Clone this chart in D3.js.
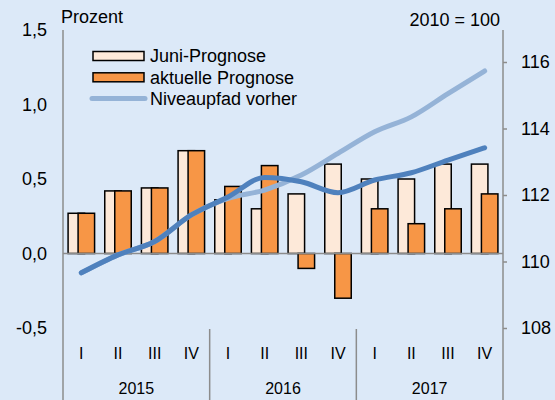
<!DOCTYPE html>
<html>
<head>
<meta charset="utf-8">
<script src="https://cdn.jsdelivr.net/npm/d3@7"></script>
<style>
  body { margin: 0; background: #dce9f8; }
  svg { display: block; font-family: "Liberation Sans", Arial, sans-serif; }
</style>
</head>
<body>
<div id="chart"></div>
<script>
var quarters = ['I', 'II', 'III', 'IV', 'I', 'II', 'III', 'IV', 'I', 'II', 'III', 'IV'];
var years = ['2015', '2016', '2017'];
var juniPrognose = [0.27, 0.42, 0.44, 0.69, 0.36, 0.30, 0.40, 0.60, 0.50, 0.50, 0.60, 0.60];
var aktuellePrognose = [0.27, 0.42, 0.44, 0.69, 0.45, 0.59, -0.10, -0.30, 0.30, 0.20, 0.30, 0.40];
var niveauVorher = [109.66, 110.2, 110.6, 111.4, 111.9, 112.15, 112.6, 113.25, 113.9, 114.35, 115.05, 115.73];
var niveauAktuell = [109.66, 110.2, 110.6, 111.4, 111.94, 112.53, 112.4, 112.07, 112.45, 112.67, 113.05, 113.42];
var leftTicks = [-0.5, 0, 0.5, 1, 1.5];
var rightTicks = [108, 110, 112, 114, 116];
var legendItems = ['Juni-Prognose', 'aktuelle Prognose', 'Niveaupfad vorher'];

var config = {
  width: 555, height: 400,
  left: 63, right: 503, top: 30, bottom: 402.5,
  bg: '#dce9f8', axis: '#8c8c8c',
  juni: '#fde9d9', orange: '#f79646',
  dark: '#4f81bd', light: '#95b3d7',
  fontSize: 18, catFontSize: 16
};

var svg = d3.select('#chart').append('svg')
    .attr('width', config.width)
    .attr('height', config.height);

svg.append('rect')
    .attr('width', config.width)
    .attr('height', config.height)
    .attr('fill', config.bg);

var idx = d3.range(quarters.length);

var x = d3.scaleBand()
    .domain(idx)
    .range([config.left, config.right])
    .padding(0);

var yLeft = d3.scaleLinear()
    .domain([-1, 1.5])
    .range([config.bottom, config.top]);

var yRight = d3.scaleLinear()
    .domain([108, 116])
    .range([328, 62]);

function fmt(d) { return d3.format('.1f')(d).replace('.', ',').replace('\u2212', '-'); }

// left axis labels (no tick marks)
svg.append('g').selectAll('text').data(leftTicks).enter()
    .append('text')
    .attr('x', 47)
    .attr('y', function(d) { return yLeft(d); })
    .attr('dy', '0.35em')
    .attr('text-anchor', 'end')
    .attr('font-size', config.fontSize)
    .attr('fill', '#000')
    .text(fmt);

// bars
var bw = 16.5, off = 5;
var bars = svg.append('g');

bars.selectAll('rect.juni').data(juniPrognose).enter()
    .append('rect')
    .attr('class', 'juni')
    .attr('x', function(d, i) { return x(i) + x.bandwidth() / 2 - off - bw / 2; })
    .attr('y', function(d) { return yLeft(Math.max(0, d)); })
    .attr('width', bw)
    .attr('height', function(d) { return Math.abs(yLeft(d) - yLeft(0)); })
    .attr('fill', config.juni)
    .attr('stroke', '#000')
    .attr('stroke-width', 1.5);

bars.selectAll('rect.akt').data(aktuellePrognose).enter()
    .append('rect')
    .attr('class', 'akt')
    .attr('x', function(d, i) { return x(i) + x.bandwidth() / 2 + off - bw / 2; })
    .attr('y', function(d) { return yLeft(Math.max(0, d)); })
    .attr('width', bw)
    .attr('height', function(d) { return Math.abs(yLeft(d) - yLeft(0)); })
    .attr('fill', config.orange)
    .attr('stroke', '#000')
    .attr('stroke-width', 1.5);

// zero line
svg.append('line')
    .attr('x1', config.left).attr('x2', config.right)
    .attr('y1', yLeft(0)).attr('y2', yLeft(0))
    .attr('stroke', config.axis)
    .attr('stroke-width', 1.5);

// level lines
var line = d3.line()
    .x(function(d, i) { return x(i) + x.bandwidth() / 2; })
    .y(function(d) { return yRight(d); })
    .curve(d3.curveMonotoneX);

svg.append('path')
    .datum(niveauVorher)
    .attr('d', line)
    .attr('fill', 'none')
    .attr('stroke', config.light)
    .attr('stroke-width', 5)
    .attr('stroke-linecap', 'round');

svg.append('path')
    .datum(niveauAktuell)
    .attr('d', line)
    .attr('fill', 'none')
    .attr('stroke', config.dark)
    .attr('stroke-width', 5)
    .attr('stroke-linecap', 'round');

// left axis line
svg.append('line')
    .attr('x1', config.left).attr('x2', config.left)
    .attr('y1', config.top).attr('y2', config.height)
    .attr('stroke', config.axis)
    .attr('stroke-width', 1.5);

// right axis
var rAxis = d3.axisRight(yRight)
    .tickValues(rightTicks)
    .tickSize(4)
    .tickPadding(14)
    .tickFormat(d3.format('d'));

var rg = svg.append('g')
    .attr('transform', 'translate(' + config.right + ',0)')
    .call(rAxis);
rg.select('.domain').remove();
rg.selectAll('line').attr('stroke', config.axis).attr('stroke-width', 1.5);
rg.selectAll('text')
    .attr('font-family', '"Liberation Sans", Arial, sans-serif')
    .attr('font-size', config.fontSize)
    .attr('fill', '#000');
rg.append('line')
    .attr('x1', 0).attr('x2', 0)
    .attr('y1', config.top).attr('y2', config.height)
    .attr('stroke', config.axis)
    .attr('stroke-width', 1.5);

// year separators
svg.append('g').selectAll('line').data([4, 8]).enter()
    .append('line')
    .attr('x1', function(d) { return x(d); })
    .attr('x2', function(d) { return x(d); })
    .attr('y1', 329).attr('y2', config.height)
    .attr('stroke', config.axis)
    .attr('stroke-width', 1.5);

// quarter labels
svg.append('g').selectAll('text').data(quarters).enter()
    .append('text')
    .attr('x', function(d, i) { return x(i) + x.bandwidth() / 2; })
    .attr('y', 353)
    .attr('dy', '0.35em')
    .attr('text-anchor', 'middle')
    .attr('font-size', config.catFontSize)
    .text(function(d) { return d; });

// year labels
svg.append('g').selectAll('text').data(years).enter()
    .append('text')
    .attr('x', function(d, i) { return (x(i * 4) + x(i * 4 + 3) + x.bandwidth()) / 2; })
    .attr('y', 388)
    .attr('dy', '0.35em')
    .attr('text-anchor', 'middle')
    .attr('font-size', config.catFontSize)
    .text(function(d) { return d; });

// axis titles
svg.append('text')
    .attr('x', 61).attr('y', 17)
    .attr('dy', '0.35em')
    .attr('font-size', config.fontSize)
    .text('Prozent');

svg.append('text')
    .attr('x', 500).attr('y', 20)
    .attr('dy', '0.35em')
    .attr('text-anchor', 'end')
    .attr('font-size', config.fontSize)
    .text('2010 = 100');

// legend
var legend = svg.append('g').attr('transform', 'translate(93,56)');
var leg = legend.selectAll('g').data(legendItems).enter()
    .append('g')
    .attr('transform', function(d, i) { return 'translate(0,' + (i * 21.3) + ')'; });

leg.each(function(d, i) {
  var g = d3.select(this);
  if (i < 2) {
    g.append('rect')
      .attr('x', 0).attr('y', -4.5)
      .attr('width', 51).attr('height', 9)
      .attr('fill', i === 0 ? config.juni : config.orange)
      .attr('stroke', '#000')
      .attr('stroke-width', 1.5);
  } else {
    g.append('line')
      .attr('x1', -1).attr('x2', 52)
      .attr('y1', 0).attr('y2', 0)
      .attr('stroke', config.light)
      .attr('stroke-width', 5)
      .attr('stroke-linecap', 'round');
  }
  g.append('text')
    .attr('x', 57).attr('y', 0)
    .attr('dy', '0.35em')
    .attr('font-size', config.fontSize)
    .text(d);
});
</script>
</body>
</html>
